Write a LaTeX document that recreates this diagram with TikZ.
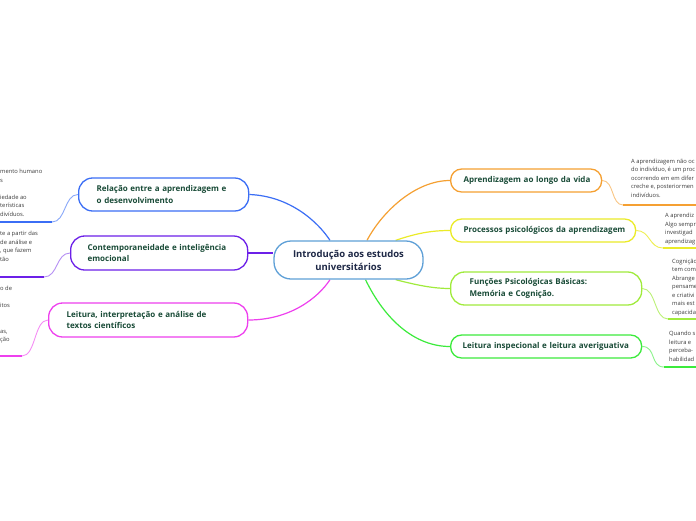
\documentclass[tikz,border=0pt]{standalone}
\usepackage{fontspec}
\setmainfont{Open Sans}
\usetikzlibrary{backgrounds}
\definecolor{cblue}{RGB}{59,110,245}
\definecolor{cpurple}{RGB}{108,32,232}
\definecolor{cmag}{RGB}{238,64,238}
\definecolor{corange}{RGB}{245,160,50}
\definecolor{cyellow}{RGB}{235,235,40}
\definecolor{clgreen}{RGB}{160,235,60}
\definecolor{cgreen}{RGB}{60,235,60}
\definecolor{ccenter}{RGB}{95,160,215}
\definecolor{nodetext}{RGB}{25,75,55}
\definecolor{centertext}{RGB}{30,40,70}
\definecolor{leaftext}{RGB}{60,60,60}
\begin{document}
\begin{tikzpicture}[x=1pt,y=-1pt,
  branch/.style={draw, line width=1.3pt, fill=white, anchor=west, align=left,
    inner ysep=0pt, font=\bfseries\fontsize{8}{11.5}\selectfont, text=nodetext},
  onel/.style={rounded corners=11pt},
  twol/.style={rounded corners=14pt},
  leaf/.style={anchor=north west, inner sep=0pt, align=left,
    font=\fontsize{5.8}{8.5}\selectfont, text=leaftext},
  conn/.style={line width=1.2pt},
  leafconn/.style={line width=0.9pt},
  uline/.style={line width=2.2pt}
]
\useasboundingbox (0,0) rectangle (696,520);

% center
\node[draw=ccenter, line width=1.3pt, fill=white, rounded corners=17pt,
  minimum width=149pt, minimum height=38pt, align=center,
  font=\bfseries\fontsize{9.5}{13}\selectfont, text=centertext] (c) at (348.5,260)
  {Introdução aos estudos\\universitários};

% branches left
\node[branch, twol, draw=cblue, text width=134pt, inner xsep=18pt, minimum height=33pt] (n1) at (78,194.5)
  {\mbox{Relação entre a aprendizagem e}\\\mbox{o desenvolvimento}};
\node[branch, twol, draw=cpurple, text width=143pt, inner xsep=17pt, minimum height=34pt] (n2) at (70,253)
  {\mbox{Contemporaneidade e inteligência}\\\mbox{emocional}};
\node[branch, twol, draw=cmag, text width=163pt, inner xsep=18pt, minimum height=34pt] (n3) at (48,320)
  {\mbox{Leitura, interpretação e análise de}\\\mbox{textos científicos}};

% branches right
\node[branch, onel, draw=corange, text width=125pt, inner xsep=13pt, minimum height=23pt] (n4) at (450,180.5)
  {\mbox{Aprendizagem ao longo da vida}};
\node[branch, onel, draw=cyellow, text width=159pt, inner xsep=13pt, minimum height=23pt] (n5) at (450,230.5)
  {\mbox{Processos psicológicos da aprendizagem}};
\node[branch, twol, draw=clgreen, text width=153pt, inner xsep=19pt, minimum height=33pt] (n6) at (450,288.5)
  {\mbox{Funções Psicológicas Básicas:}\\\mbox{Memória e Cognição.}};
\node[branch, onel, draw=cgreen, text width=167pt, inner xsep=12pt, minimum height=23pt] (n7) at (450,346.5)
  {\mbox{Leitura inspecional e leitura averiguativa}};

% leaf texts left (cut at the left edge)
\node[leaf] (t1) at (0,169) {mento humano\\s\\\mbox{}\\iedade ao\\terísticas\\divíduos.};
\node[leaf] (t2) at (0,231) {te a partir das\\de análise e\\, que fazem\\tão};
\node[leaf] (t3) at (0,286) {o de\\\mbox{}\\itos\\\mbox{}\\\mbox{}\\as,\\ção};

% leaf texts right (cut at the right edge)
\node[leaf] (t4) at (631,158.5) {A aprendizagem não oc\\do indivíduo, é um proc\\ocorrendo em em difer\\creche e, posteriormen\\indivíduos.};
\node[leaf] (t5) at (665,213) {A aprendiz\\Algo sempr\\investigad\\aprendizag};
\node[leaf] (t6) at (672,259) {Cognição\\tem com\\Abrange\\pensame\\e criativi\\mais est\\capacida};
\node[leaf] (t7) at (669,331) {Quando s\\leitura e\\perceba-\\habilidad};

% leaf underline ends
\coordinate (u1a) at (52,222);  \coordinate (u1b) at (0,222);
\coordinate (u2a) at (44,277);  \coordinate (u2b) at (0,277);
\coordinate (u3a) at (22,356);  \coordinate (u3b) at (0,356);
\coordinate (u4a) at (623,205); \coordinate (u4b) at (696,205);
\coordinate (u5a) at (663,248); \coordinate (u5b) at (696,248);
\coordinate (u6a) at (668,319); \coordinate (u6b) at (696,319);
\coordinate (u7a) at (664,367); \coordinate (u7b) at (696,367);

\begin{scope}[on background layer]
\fill[white] (0,0) rectangle (696,520);
% main connectors
\draw[conn, cblue] (n1.east) .. controls (290,196) and (318,222) .. ([xshift=-18.5pt]c.north);
\draw[conn, cpurple] (n2.east) .. controls (258,253) and (262,253) .. ([yshift=7pt]c.west);
\draw[conn, cmag] (n3.east) .. controls (290,320) and (318,298) .. ([xshift=-18.5pt]c.south);
\draw[conn, corange] ([xshift=18.5pt]c.north) .. controls (382,212) and (415,180.5) .. (n4.west);
\draw[conn, cyellow] ([xshift=-28pt]c.north east) .. controls (420,232) and (435,230.5) .. (n5.west);
\draw[conn, clgreen] ([xshift=-28pt]c.south east) .. controls (420,286) and (435,288.5) .. (n6.west);
\draw[conn, cgreen] ([xshift=17pt]c.south) .. controls (385,320) and (415,346.5) .. (n7.west);
% leaf connectors
\draw[leafconn, cblue!60] (n1.west) .. controls +(-14,0) and +(14,0) .. (u1a);
\draw[uline, cblue] (u1a) -- (u1b);
\draw[leafconn, cpurple!50] (n2.west) .. controls +(-14,0) and +(14,0) .. (u2a);
\draw[uline, cpurple] (u2a) -- (u2b);
\draw[leafconn, cmag!60] (n3.west) .. controls +(-14,0) and +(14,0) .. (u3a);
\draw[uline, cmag] (u3a) -- (u3b);
\draw[leafconn, corange!60] (n4.east) .. controls +(12,0) and +(-12,0) .. (u4a);
\draw[uline, corange] (u4a) -- (u4b);
\draw[leafconn, cyellow!80] (n5.east) .. controls +(14,0) and +(-14,0) .. (u5a);
\draw[uline, cyellow] (u5a) -- (u5b);
\draw[leafconn, clgreen!70] (n6.east) .. controls +(14,0) and +(-14,0) .. (u6a);
\draw[uline, clgreen] (u6a) -- (u6b);
\draw[leafconn, cgreen!60] (n7.east) .. controls +(14,0) and +(-14,0) .. (u7a);
\draw[uline, cgreen] (u7a) -- (u7b);
\end{scope}
\end{tikzpicture}
\end{document}
